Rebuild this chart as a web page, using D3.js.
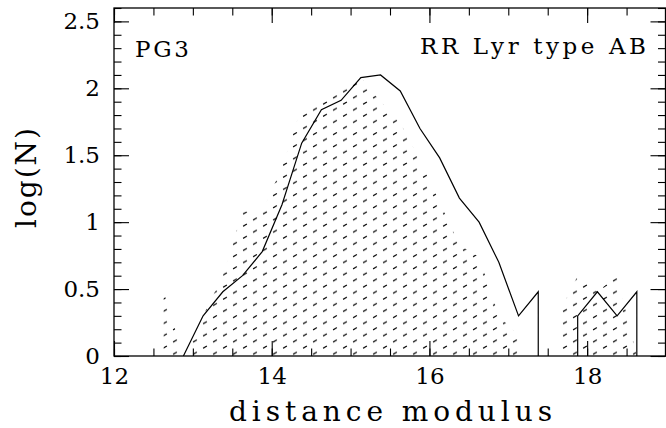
<!DOCTYPE html>
<html><head><meta charset="utf-8">
<script src="https://cdn.jsdelivr.net/npm/d3@7"></script>
<style>body{margin:0;background:#fff}svg{display:block}</style>
</head><body>
<svg id="c" width="666" height="428"></svg>
<script>
// bin centres (distance modulus) and log(N) of the outlined histogram
const lineX = [12.88,13.13,13.38,13.63,13.88,14.13,14.38,14.63,14.88,15.13,15.38,15.63,15.88,16.13,16.38,16.63,16.88,17.13,17.38,17.63,17.88,18.13,18.38,18.63];
const lineLogN = [0,0.30,0.48,0.60,0.78,1.13,1.59,1.84,1.91,2.08,2.10,1.98,1.70,1.48,1.18,1.00,0.70,0.30,0.48,null,0.30,0.48,0.30,0.48];
// shaded histogram
const shadeX = [12.63,12.88,13.13,13.38,13.63,13.88,14.13,14.38,14.63,14.88,15.13,15.38,15.63,15.88,16.13,16.38,16.63,16.88,17.13,17.38,17.63,17.88,18.13,18.38,18.63];
const shadeLogN = [0.48,0,0.30,0.60,1.08,1.08,1.41,1.86,1.93,2.02,2.08,1.90,1.74,1.46,1.15,0.83,0.74,0.30,0.15,null,0.30,0.60,0.48,0.60,0];
const xMajor = [12,14,16,18];
const yMajor = [0,0.5,1,1.5,2,2.5];
const xLabels = ["12","14","16","18"];
const yLabels = ["0","0.5","1","1.5","2","2.5"];

const L=114, R=666, T=8, B=356;
const x = d3.scaleLinear().domain([12,19]).range([L,R]);
const y = d3.scaleLinear().domain([0,2.6]).range([B,T]);
const svg = d3.select("#c");
const font = "DejaVu Serif, Liberation Serif, serif";

// hatch pattern
const defs = svg.append("defs");
const pat = defs.append("pattern").attr("id","hatch").attr("patternUnits","userSpaceOnUse")
  .attr("width",20).attr("height",12.2).attr("x",160).attr("y",295.3);
[[5,3],[15,9.1]].forEach(([cx,cy])=>{
  pat.append("line").attr("x1",cx-1.9).attr("y1",cy+1.1).attr("x2",cx+1.9).attr("y2",cy-1.1)
    .attr("stroke","#000").attr("stroke-width",1.1);
});
defs.append("clipPath").attr("id","plot").append("rect").attr("x",L).attr("y",T).attr("width",R-L).attr("height",B-T);

function segments(xs, vs){
  const segs=[]; let cur=[];
  xs.forEach((xv,i)=>{ if(vs[i]==null){ if(cur.length) segs.push(cur); cur=[]; } else cur.push([xv,vs[i]]); });
  if(cur.length) segs.push(cur);
  return segs;
}
const g = svg.append("g").attr("clip-path","url(#plot)");
const area = d3.area().x(d=>x(d[0])).y0(y(0)).y1(d=>y(d[1]));
segments(shadeX, shadeLogN).forEach(s=>{
  g.append("path").attr("d",area(s)).attr("fill","url(#hatch)").attr("stroke","none");
});
const line = d3.line().x(d=>x(d[0])).y(d=>y(d[1]));
const lsegs = segments(lineX, lineLogN);
lsegs.forEach((s,i)=>{
  const pts = s.slice();
  if(i>0) pts.unshift([s[0][0],0]);
  if(s[s.length-1][1]>0) pts.push([s[s.length-1][0],0]);
  g.append("path").attr("d",line(pts)).attr("fill","none").attr("stroke","#000").attr("stroke-width",1.2);
});

// axes with inward ticks
const xMinor = d3.range(12,19.01,0.5);
const yMinor = d3.range(0,2.61,0.1);
function styleAxis(sel){ sel.select(".domain").remove(); sel.selectAll("line").attr("stroke","#000").attr("stroke-width",1.1); }
svg.append("g").attr("transform",`translate(0,${B})`).call(d3.axisBottom(x).tickValues(xMinor).tickSize(-7.5).tickFormat("")).call(styleAxis);
svg.append("g").attr("transform",`translate(0,${T})`).call(d3.axisTop(x).tickValues(xMinor).tickSize(-7.5).tickFormat("")).call(styleAxis);
svg.append("g").attr("transform",`translate(${L},0)`).call(d3.axisLeft(y).tickValues(yMinor).tickSize(-7.5).tickFormat("")).call(styleAxis);
svg.append("g").attr("transform",`translate(665.5,0)`).call(d3.axisRight(y).tickValues(yMinor).tickSize(-7.5).tickFormat("")).call(styleAxis);

svg.append("g").attr("transform",`translate(0,${B})`)
  .call(d3.axisBottom(x).tickValues(xMajor).tickSize(-15).tickPadding(12).tickFormat((d,i)=>xLabels[i])).call(styleAxis);
svg.append("g").attr("transform",`translate(0,${T})`).call(d3.axisTop(x).tickValues(xMajor).tickSize(-15).tickFormat("")).call(styleAxis);
const yl = svg.append("g").attr("transform",`translate(${L},0)`)
  .call(d3.axisLeft(y).tickValues(yMajor).tickSize(-15).tickPadding(14).tickFormat((d,i)=>yLabels[i])).call(styleAxis);
svg.append("g").attr("transform",`translate(665.5,0)`).call(d3.axisRight(y).tickValues(yMajor).tickSize(-15).tickFormat("")).call(styleAxis);
svg.selectAll(".tick text").attr("font-family",font).attr("font-size",23).attr("font-weight","normal").attr("fill","#000");

// frame
svg.append("rect").attr("x",L).attr("y",T).attr("width",665.5-L).attr("height",B-T)
  .attr("fill","none").attr("stroke","#000").attr("stroke-width",1.3);

// labels
svg.append("text").attr("x",135).attr("y",57).attr("font-family",font).attr("font-size",23)
  .attr("textLength",54).attr("lengthAdjust","spacing").text("PG3");
svg.append("text").attr("x",420).attr("y",54).attr("font-family",font).attr("font-size",23)
  .attr("textLength",226).attr("lengthAdjust","spacing").text("RR Lyr type AB");
svg.append("text").attr("x",229).attr("y",421).attr("font-family",font).attr("font-size",28)
  .attr("textLength",323).attr("lengthAdjust","spacing").text("distance modulus");
svg.append("text").attr("transform","translate(36,228) rotate(-90)").attr("font-family",font).attr("font-size",28)
  .attr("textLength",100).attr("lengthAdjust","spacing").text("log(N)");
</script>
</body></html>
